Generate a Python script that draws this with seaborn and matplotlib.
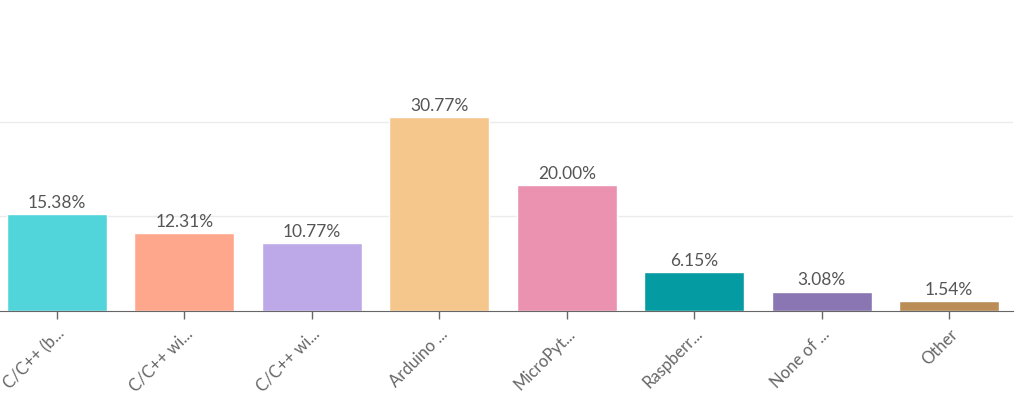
import pandas as pd
import numpy as np
import matplotlib.pyplot as plt
import seaborn as sns

# datos
categorias = ['C/C++ (b...', 'C/C++ wi...', 'C/C++ wi...', 'Arduino ...', 'MicroPyt...',
              'Raspberr...', 'None of ...', 'Other']
valores = [15.38, 12.31, 10.77, 30.77, 20.00, 6.15, 3.08, 1.54]
colores = ['#52D5DA', '#FFA78C', '#BDA8E8', '#F5C78D', '#EA92B0', '#049CA2', '#8A76B3', '#B98D55']

# indice propio porque hay dos etiquetas iguales
df = pd.DataFrame({'idx': [str(i) for i in range(len(categorias))], 'val': valores})

sns.set_style('white')
plt.rcParams['font.family'] = ['Lato', 'DejaVu Sans']

fig = plt.figure(figsize=(10.30, 4.06), dpi=100)
ax = fig.add_axes([-7/1030, (406-312)/406, 1020/1030, (312-28)/406])

sns.barplot(data=df, x='idx', y='val', hue='idx', palette=colores, legend=False,
            width=0.785, saturation=1, ax=ax)

ax.set_ylim(0, 45)
ax.set_xlim(-0.5, len(categorias) - 0.5)
ax.set_yticks([15, 30])
ax.yaxis.grid(True, color='#ebebeb', linewidth=1)
ax.set_axisbelow(True)
ax.tick_params(axis='y', left=False, labelleft=False)
ax.set_xticks(range(len(categorias)))
ax.set_xticklabels(categorias, rotation=45, ha='right', rotation_mode='anchor')
ax.tick_params(axis='x', bottom=True, length=6, color='#666666', width=1,
               labelcolor='#666666', labelsize=12, pad=4)
for s in ['top', 'right', 'left']:
    ax.spines[s].set_visible(False)
ax.spines['bottom'].set_color('#666666')
ax.set_xlabel('')
ax.set_ylabel('')

for i, v in enumerate(valores):
    ax.annotate(f'{v:.2f}%', (i, v), xytext=(0, 3), textcoords='offset points',
                ha='center', va='bottom', fontsize=12.5, color='#555555')

plt.savefig('out.png', dpi=100)
